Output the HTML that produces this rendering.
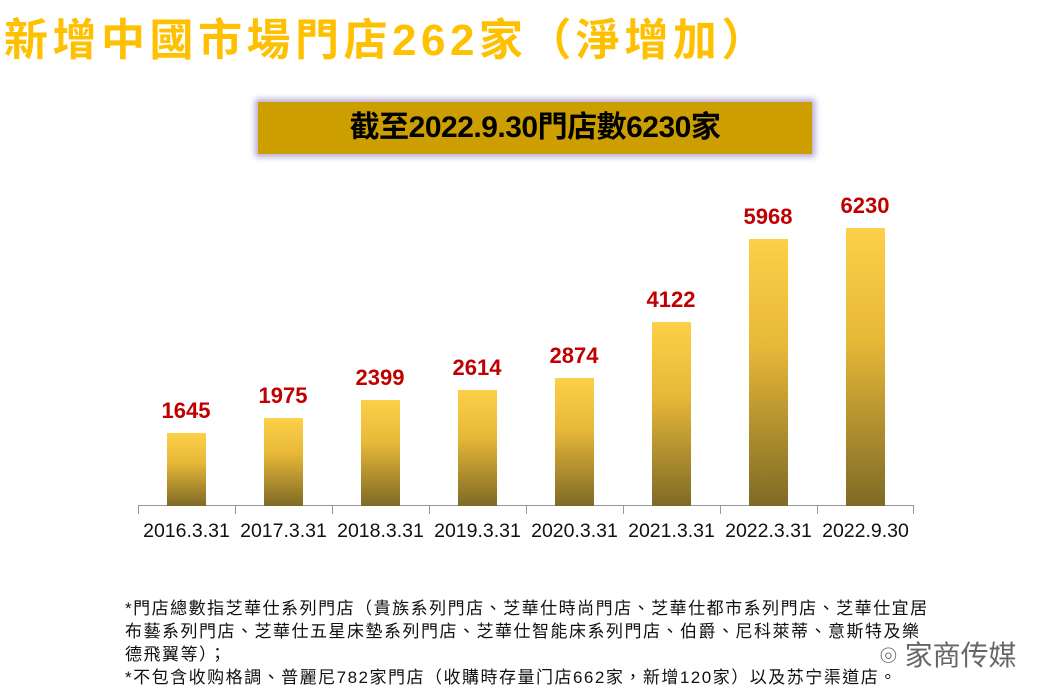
<!DOCTYPE html>
<html><head><meta charset="utf-8"><style>
body{margin:0;width:1060px;height:699px;background:#fff;position:relative;overflow:hidden;font-family:"Liberation Sans","Noto Sans CJK TC",sans-serif}
.t{position:absolute;left:4px;top:4px;font-size:44px;font-weight:bold;color:#FFC000;letter-spacing:4.5px;white-space:nowrap}
.box{position:absolute;left:258px;top:102px;width:554px;height:52px;background:#CC9E00;box-shadow:0 0 6px 3px #b9a8d6;text-align:center;line-height:52px;font-size:30px;font-weight:bold;color:#000;letter-spacing:-0.5px}
.bar{position:absolute;width:39px;bottom:193px;background:linear-gradient(#FDD048,#E8B838 40%,#7E6A26)}
.v{position:absolute;width:100px;text-align:center;font-size:22px;font-weight:bold;color:#C00000}
.x{position:absolute;top:520px;width:97px;text-align:center;font-size:19.5px;color:#111;white-space:nowrap}
.axis{position:absolute;left:138px;top:505px;width:776px;height:1px;background:#999}
.tk{position:absolute;top:505px;width:1px;height:9px;background:#999}
.fn{position:absolute;left:125px;top:597px;font-size:17px;letter-spacing:1.5px;line-height:23px;color:#111;white-space:nowrap}
.wm{position:absolute;left:880px;top:634px;font-size:28px;color:#666}
</style></head><body>
<div class="t">新增中國市場門店262家（淨增加）</div>
<div class="box">截至2022.9.30門店數6230家</div>
<div class="axis"></div>
<div class="tk" style="left:138px"></div><div class="tk" style="left:235px"></div><div class="tk" style="left:332px"></div><div class="tk" style="left:429px"></div><div class="tk" style="left:526px"></div><div class="tk" style="left:623px"></div><div class="tk" style="left:720px"></div><div class="tk" style="left:817px"></div><div class="tk" style="left:913px"></div>
<div class="bar" style="left:167px;height:73px"></div><div class="v" style="left:136px;top:398px">1645</div>
<div class="bar" style="left:264px;height:88px"></div><div class="v" style="left:233px;top:383px">1975</div>
<div class="bar" style="left:361px;height:106px"></div><div class="v" style="left:330px;top:365px">2399</div>
<div class="bar" style="left:458px;height:116px"></div><div class="v" style="left:427px;top:355px">2614</div>
<div class="bar" style="left:555px;height:128px"></div><div class="v" style="left:524px;top:343px">2874</div>
<div class="bar" style="left:652px;height:184px"></div><div class="v" style="left:621px;top:287px">4122</div>
<div class="bar" style="left:749px;height:267px"></div><div class="v" style="left:718px;top:204px">5968</div>
<div class="bar" style="left:846px;height:278px"></div><div class="v" style="left:815px;top:193px">6230</div>
<div class="x" style="left:138px">2016.3.31</div><div class="x" style="left:235px">2017.3.31</div><div class="x" style="left:332px">2018.3.31</div><div class="x" style="left:429px">2019.3.31</div><div class="x" style="left:526px">2020.3.31</div><div class="x" style="left:623px">2021.3.31</div><div class="x" style="left:720px">2022.3.31</div><div class="x" style="left:817px">2022.9.30</div>
<div class="fn">*門店總數指芝華仕系列門店（貴族系列門店、芝華仕時尚門店、芝華仕都市系列門店、芝華仕宜居<br>布藝系列門店、芝華仕五星床墊系列門店、芝華仕智能床系列門店、伯爵、尼科萊蒂、意斯特及樂<br>德飛翼等）；<br>*不包含收购格調、普麗尼782家門店（收購時存量门店662家，新增120家）以及苏宁渠道店。</div>
<div class="wm">⌾ 家商传媒</div>
</body></html>
